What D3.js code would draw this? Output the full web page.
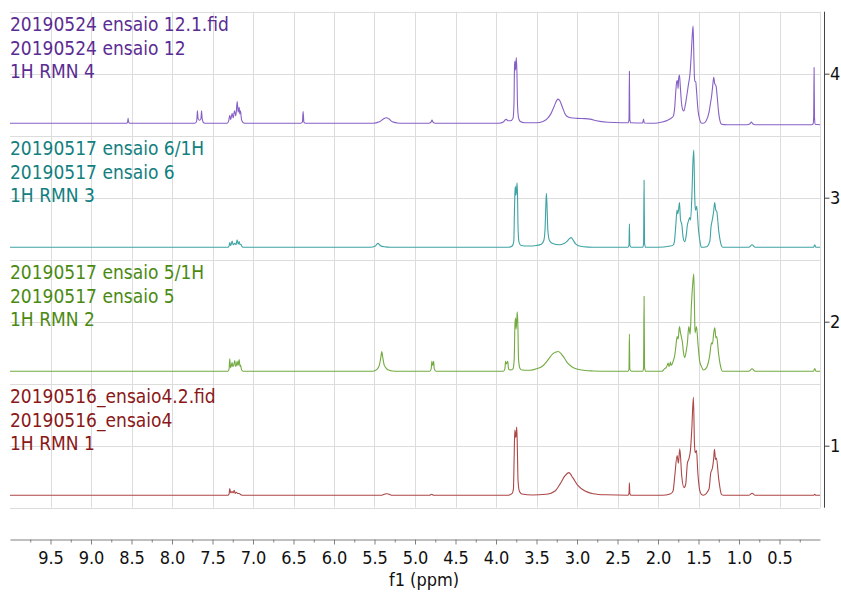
<!DOCTYPE html>
<html>
<head>
<meta charset="utf-8">
<script src="https://cdn.jsdelivr.net/npm/d3@7"></script>
<style>
  html, body { margin: 0; padding: 0; background: #ffffff; }
  svg { display: block; }
  text { font-family: "DejaVu Sans Condensed", "DejaVu Sans", sans-serif; }
</style>
</head>
<body>
<svg id="chart" width="841" height="593"></svg>
<script>
// Stacked 1H NMR spectra: [chemical shift (ppm), intensity above the trace's own baseline]
const spectrumRMN1 = [
  [10.0,0],[7.31,0],[7.295,0.01],[7.287,0.054],[7.275,0.02],[7.258,0.03],[7.245,0.02],[7.232,0.04],[7.22,0.015],[7.205,0.025],[7.19,0.015],[7.171,0.015],[7.15,0.005],[7.12,0],
  [5.42,0],[5.38,0.008],[5.35,0.013],[5.32,0.008],[5.28,0],
  [4.82,0],[4.795,0.008],[4.77,0],
  [3.85,0],[3.80,0.015],[3.785,0.05],[3.776,0.30],[3.768,0.527],[3.762,0.50],[3.756,0.465],[3.750,0.50],[3.744,0.55],[3.737,0.40],[3.728,0.12],[3.71,0.03],[3.68,0.01],[3.55,0.003],
  [3.38,0.008],[3.27,0.035],[3.21,0.09],[3.15,0.156],[3.10,0.183],[3.05,0.14],[2.99,0.08],[2.90,0.035],[2.80,0.013],[2.64,0.004],
  [2.37,0],[2.358,0.015],[2.353,0.10],[2.348,0.015],[2.33,0],
  [1.95,0],[1.85,0.01],[1.814,0.035],[1.793,0.156],[1.764,0.32],[1.748,0.26],[1.731,0.376],[1.707,0.156],[1.678,0.062],[1.658,0.09],[1.637,0.26],[1.616,0.30],[1.600,0.36],[1.583,0.53],[1.563,0.79],[1.55,0.42],[1.542,0.344],[1.525,0.36],[1.508,0.18],[1.485,0.04],[1.464,0.008],[1.44,0],
  [1.37,0.05],[1.349,0.18],[1.328,0.22],[1.312,0.30],[1.303,0.37],[1.29,0.29],[1.279,0.30],[1.25,0.13],[1.217,0.008],[1.19,0],
  [0.88,0],[0.838,0.016],[0.80,0],
  [0.08,0],[0.065,0.008],[0.05,0],[0,0]
];

const spectrumRMN2 = [
  [10.0,0],[7.31,0],[7.295,0.02],[7.287,0.10],[7.278,0.03],[7.27,0.04],[7.258,0.07],[7.25,0.04],[7.24,0.045],[7.225,0.087],[7.215,0.04],[7.205,0.05],[7.196,0.08],[7.185,0.045],[7.171,0.094],[7.16,0.04],[7.155,0.05],[7.14,0.01],[7.12,0],
  [5.52,0],[5.47,0.015],[5.44,0.05],[5.42,0.12],[5.41,0.16],[5.40,0.12],[5.38,0.05],[5.34,0.015],[5.28,0.003],[5.20,0],
  [4.82,0],[4.80,0.02],[4.792,0.08],[4.785,0.05],[4.778,0.055],[4.77,0.08],[4.762,0.02],[4.74,0],
  [3.91,0],[3.89,0.02],[3.882,0.08],[3.872,0.06],[3.865,0.065],[3.855,0.08],[3.845,0.02],[3.82,0.01],
  [3.79,0.02],[3.775,0.10],[3.766,0.38],[3.758,0.43],[3.752,0.34],[3.745,0.40],[3.737,0.48],[3.73,0.37],[3.722,0.10],[3.705,0.025],[3.68,0.01],
  [3.58,0.008],[3.50,0.02],[3.42,0.045],[3.36,0.09],[3.30,0.14],[3.26,0.155],[3.233,0.16],[3.20,0.145],[3.16,0.11],[3.12,0.07],[3.06,0.035],[3.00,0.018],[2.90,0.007],[2.80,0.003],[2.60,0],
  [2.37,0],[2.358,0.02],[2.353,0.30],[2.348,0.02],[2.33,0],
  [2.19,0],[2.178,0.03],[2.172,0.605],[2.166,0.03],[2.15,0],
  [1.95,0],[1.92,0.02],[1.90,0.03],[1.885,0.05],[1.875,0.067],[1.865,0.04],[1.855,0.05],[1.847,0.075],[1.838,0.05],[1.828,0.055],[1.814,0.08],[1.793,0.13],[1.781,0.19],[1.764,0.28],[1.752,0.26],[1.735,0.36],[1.722,0.31],[1.698,0.23],[1.685,0.15],[1.670,0.11],[1.65,0.17],[1.637,0.23],[1.62,0.36],[1.603,0.30],[1.587,0.54],[1.572,0.70],[1.558,0.785],[1.548,0.45],[1.542,0.31],[1.525,0.36],[1.505,0.21],[1.485,0.08],[1.464,0.04],[1.44,0.01],
  [1.40,0.03],[1.361,0.13],[1.340,0.23],[1.328,0.22],[1.312,0.31],[1.299,0.35],[1.285,0.27],[1.275,0.28],[1.25,0.13],[1.22,0.02],[1.205,0],
  [0.88,0],[0.838,0.02],[0.80,0],
  [0.08,0],[0.065,0.022],[0.05,0],[0,0]
];

const spectrumRMN3 = [
  [10.0,0],[7.31,0],[7.295,0.01],[7.287,0.038],[7.275,0.015],[7.258,0.05],[7.245,0.02],[7.225,0.032],[7.21,0.02],[7.196,0.06],[7.183,0.025],[7.171,0.046],[7.16,0.02],[7.15,0.025],[7.135,0.005],[7.11,0],
  [5.55,0],[5.49,0.01],[5.46,0.032],[5.43,0.015],[5.38,0.004],[5.30,0],
  [3.84,0],[3.80,0.01],[3.78,0.05],[3.772,0.30],[3.765,0.46],[3.760,0.49],[3.755,0.42],[3.748,0.45],[3.740,0.52],[3.735,0.44],[3.727,0.14],[3.715,0.04],[3.69,0.015],[3.60,0.01],
  [3.50,0.015],[3.44,0.025],[3.41,0.055],[3.395,0.14],[3.385,0.33],[3.378,0.435],[3.37,0.33],[3.36,0.14],[3.34,0.055],[3.30,0.03],[3.22,0.02],
  [3.16,0.03],[3.12,0.05],[3.09,0.072],[3.07,0.078],[3.05,0.06],[3.02,0.03],[2.98,0.012],[2.92,0.004],[2.80,0],
  [2.37,0],[2.358,0.02],[2.353,0.19],[2.348,0.02],[2.33,0],
  [2.19,0],[2.178,0.03],[2.172,0.54],[2.166,0.03],[2.15,0],
  [2.0,0],[1.85,0.01],[1.81,0.02],[1.795,0.06],[1.781,0.17],[1.765,0.30],[1.756,0.27],[1.747,0.30],[1.735,0.36],[1.722,0.22],[1.705,0.18],[1.69,0.08],[1.67,0.045],[1.655,0.08],[1.637,0.18],[1.62,0.22],[1.608,0.24],[1.598,0.22],[1.582,0.41],[1.568,0.70],[1.558,0.785],[1.548,0.45],[1.542,0.33],[1.534,0.30],[1.522,0.33],[1.50,0.14],[1.48,0.04],[1.464,0],
  [1.40,0.005],[1.36,0.05],[1.345,0.167],[1.33,0.22],[1.315,0.28],[1.30,0.36],[1.287,0.30],[1.275,0.29],[1.25,0.13],[1.22,0.02],[1.20,0],
  [0.88,0],[0.838,0.02],[0.80,0],
  [0.08,0],[0.065,0.02],[0.05,0],[0,0]
];

const spectrumRMN4 = [
  [10.0,0],[8.56,0],[8.548,0.01],[8.542,0.04],[8.536,0.01],[8.52,0],
  [7.72,0],[7.70,0.01],[7.692,0.04],[7.686,0.10],[7.679,0.04],[7.66,0.025],[7.642,0.04],[7.635,0.10],[7.628,0.04],[7.61,0.005],[7.58,0],
  [7.32,0],[7.30,0.02],[7.287,0.065],[7.275,0.03],[7.258,0.08],[7.245,0.045],[7.228,0.10],[7.212,0.06],[7.195,0.175],[7.183,0.09],[7.171,0.13],[7.163,0.075],[7.155,0.10],[7.142,0.03],[7.12,0.005],[7.09,0],
  [6.41,0],[6.39,0.01],[6.381,0.094],[6.372,0.01],[6.35,0],
  [5.52,0],[5.44,0.012],[5.39,0.035],[5.355,0.045],[5.32,0.035],[5.28,0.012],[5.22,0.003],[5.15,0],
  [4.83,0],[4.80,0.012],[4.79,0.026],[4.78,0.012],[4.75,0],
  [3.96,0],[3.91,0.01],[3.885,0.028],[3.87,0.032],[3.855,0.02],[3.82,0.02],[3.79,0.04],[3.778,0.16],[3.771,0.47],[3.766,0.50],[3.760,0.43],[3.755,0.46],[3.749,0.53],[3.742,0.42],[3.734,0.14],[3.72,0.04],[3.70,0.015],[3.65,0.005],
  [3.50,0.005],[3.42,0.015],[3.37,0.035],[3.32,0.08],[3.28,0.14],[3.25,0.185],[3.233,0.195],[3.21,0.18],[3.18,0.13],[3.15,0.08],[3.12,0.055],[3.08,0.045],[3.00,0.04],[2.90,0.038],[2.84,0.034],[2.76,0.02],[2.62,0.008],[2.45,0.004],
  [2.37,0.004],[2.358,0.03],[2.353,0.42],[2.348,0.03],[2.335,0.004],
  [2.19,0.002],[2.178,0.035],[2.17,0.002],
  [2.05,0],[1.95,0.01],[1.88,0.025],[1.83,0.045],[1.81,0.06],[1.795,0.12],[1.78,0.26],[1.768,0.34],[1.76,0.345],[1.752,0.28],[1.745,0.36],[1.735,0.39],[1.725,0.30],[1.712,0.18],[1.695,0.11],[1.68,0.10],[1.665,0.14],[1.645,0.22],[1.625,0.31],[1.605,0.40],[1.59,0.55],[1.578,0.70],[1.567,0.785],[1.56,0.62],[1.552,0.40],[1.545,0.34],[1.534,0.335],[1.522,0.24],[1.505,0.10],[1.485,0.03],[1.465,0.002],[1.44,0],
  [1.405,0.02],[1.37,0.09],[1.35,0.17],[1.338,0.22],[1.325,0.30],[1.312,0.37],[1.30,0.32],[1.283,0.30],[1.27,0.22],[1.252,0.09],[1.235,0.02],[1.215,-0.008],[1.15,-0.012],
  [0.90,-0.012],[0.865,-0.004],[0.847,0.01],[0.83,-0.004],[0.80,-0.012],
  [0.10,-0.012],[0.085,-0.005],[0.078,0.05],[0.073,0.45],[0.068,0.05],[0.06,-0.008],[0,-0.012]
];

// Stacking order from bottom to top
const spectra = [spectrumRMN1, spectrumRMN2, spectrumRMN3, spectrumRMN4];
const stackOffsets = [0.6, 1.6, 2.6, 3.6];
const traceTitles = [
  ["20190516_ensaio4.2.fid", "20190516_ensaio4", "1H RMN 1"],
  ["20190517 ensaio 5/1H", "20190517 ensaio 5", "1H RMN 2"],
  ["20190517 ensaio 6/1H", "20190517 ensaio 6", "1H RMN 3"],
  ["20190524 ensaio 12.1.fid", "20190524 ensaio 12", "1H RMN 4"]
];
const traceColors = ["#ad4646", "#72aa40", "#3fa3a3", "#8760c6"];
const titleColors = ["#8a1818", "#4b8a12", "#11807f", "#5b2c93"];

const shiftTicks = [9.5, 9.0, 8.5, 8.0, 7.5, 7.0, 6.5, 6.0, 5.5, 5.0, 4.5, 4.0, 3.5, 3.0, 2.5, 2.0, 1.5, 1.0, 0.5];
const shiftMinorTicks = [9.75, 9.25, 8.75, 8.25, 7.75, 7.25, 6.75, 6.25, 5.75, 5.25, 4.75, 4.25, 3.75, 3.25, 2.75, 2.25, 1.75, 1.25, 0.75, 0.25];
const stackTicks = [1, 2, 3, 4];
const gridRows = [0.5, 1.0, 1.5, 2.0, 2.5, 3.0, 3.5, 4.0, 4.5];
const gridCols = [9.5, 9.0, 8.5, 8.0, 7.5, 7.0, 6.5, 6.0, 5.5, 5.0, 4.5, 4.0, 3.5, 3.0, 2.5, 2.0, 1.5, 1.0, 0.5, 0.0];

const svg = d3.select("#chart");
const x = d3.scaleLinear().domain([10, 0]).range([10, 820]);
const y = d3.scaleLinear().domain([0.5, 4.5]).range([507.7, 11.7]);

// grid
const grid = svg.append("g").attr("stroke", "#dcdcdc").attr("stroke-width", 1);
grid.selectAll("line.row").data(gridRows).join("line")
  .attr("class", "row")
  .attr("x1", x(10)).attr("x2", x(0))
  .attr("y1", d => Math.round(y(d)) + 0.5).attr("y2", d => Math.round(y(d)) + 0.5);
grid.selectAll("line.col").data(gridCols).join("line")
  .attr("class", "col")
  .attr("x1", d => Math.round(x(d)) + 0.5).attr("x2", d => Math.round(x(d)) + 0.5)
  .attr("y1", y(4.5)).attr("y2", y(0.5));

// spectra
const line = d3.line().curve(d3.curveMonotoneX);
spectra.forEach((spec, i) => {
  const off = stackOffsets[i];
  svg.append("path")
    .attr("d", line(spec.map(d => [x(d[0]), y(off + d[1])])))
    .attr("fill", "none")
    .attr("stroke", traceColors[i])
    .attr("stroke-width", 1.1)
    .attr("stroke-linejoin", "round");
});

// trace titles
traceTitles.forEach((lines, i) => {
  const top = y(stackOffsets[i] + 0.9);
  svg.append("g").selectAll("text").data(lines).join("text")
    .attr("x", 10)
    .attr("y", (d, j) => top + 19 + j * 23.8)
    .attr("fill", titleColors[i])
    .attr("font-size", 19)
    .text(d => d);
});

// right stacking axis
const yAxis = svg.append("g").attr("transform", "translate(824.5,0)")
  .call(d3.axisRight(y).tickValues(stackTicks).tickSize(5).tickSizeOuter(0).tickFormat(d3.format("d")));
yAxis.select(".domain").attr("stroke", "#444").attr("d", `M0,${y(4.5)}V${y(0.5)}`);
yAxis.selectAll(".tick line").attr("stroke", "#444");
yAxis.selectAll(".tick text").attr("font-size", 18).attr("fill", "#111").attr("x", 5.5)
  .style("font-family", "'DejaVu Sans Condensed', 'DejaVu Sans', sans-serif");

// chemical shift axis
const axisY = 539.5;
const xAxis = svg.append("g").attr("transform", `translate(0,${axisY})`)
  .call(d3.axisBottom(x).tickValues(shiftTicks).tickSize(5).tickSizeOuter(0).tickPadding(7).tickFormat(d3.format(".1f")));
xAxis.select(".domain").attr("stroke", "#808080");
xAxis.selectAll(".tick line").attr("stroke", "#808080");
xAxis.selectAll(".tick text").attr("font-size", 18).attr("fill", "#111")
  .style("font-family", "'DejaVu Sans Condensed', 'DejaVu Sans', sans-serif");
const xMinor = svg.append("g").attr("transform", `translate(0,${axisY})`)
  .call(d3.axisBottom(x).tickValues(shiftMinorTicks).tickSize(3).tickSizeOuter(0).tickFormat(""));
xMinor.select(".domain").remove();
xMinor.selectAll(".tick line").attr("stroke", "#808080");

svg.append("text")
  .attr("x", 424).attr("y", 586)
  .attr("text-anchor", "middle")
  .attr("font-size", 18).attr("fill", "#111")
  .text("f1 (ppm)");
</script>
</body>
</html>
